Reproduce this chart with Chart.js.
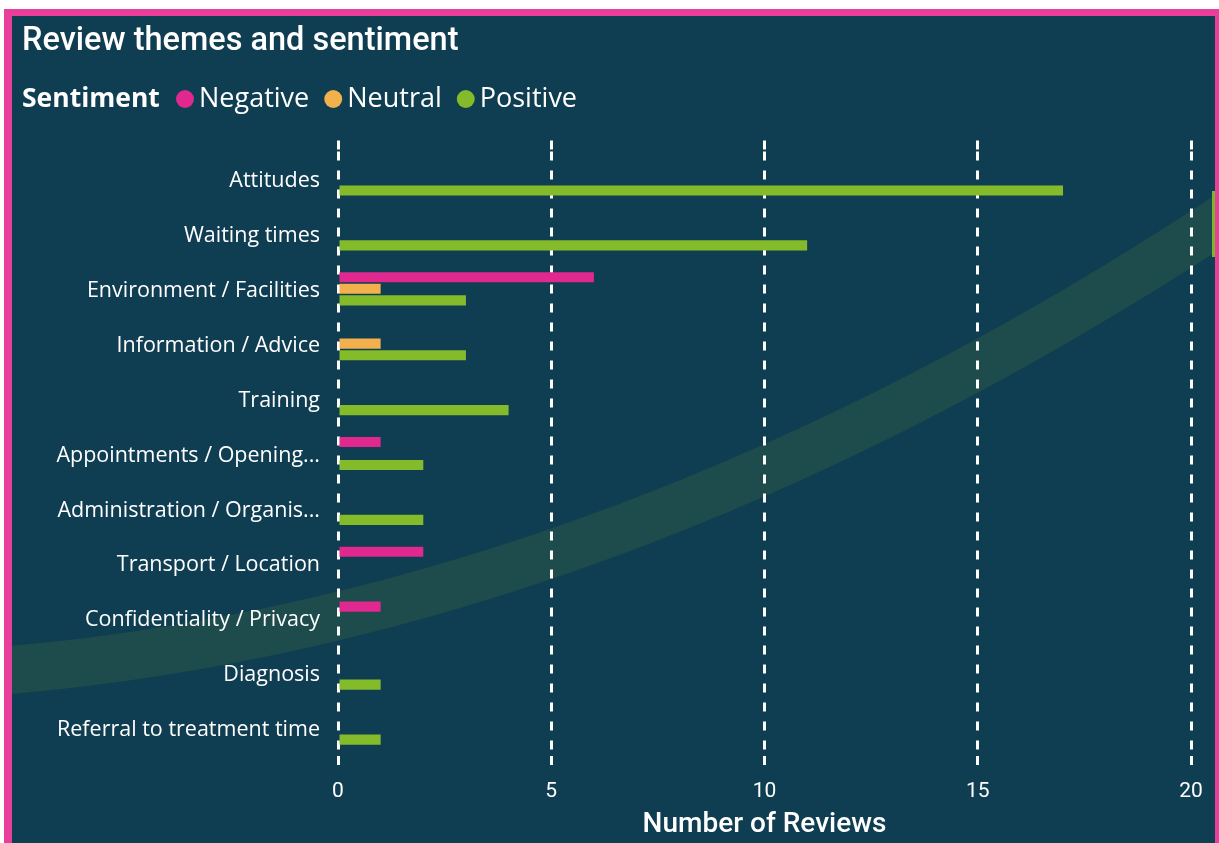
<!DOCTYPE html>
<html>
<head>
<meta charset="utf-8">
<script src="https://cdn.jsdelivr.net/npm/chart.js@4.4.1/dist/chart.umd.min.js"></script>
<style>
html,body{margin:0;padding:0;width:1219px;height:843px;overflow:hidden;background:#ffffff;}
#frame{position:absolute;left:4px;top:9px;width:1219px;height:860px;box-sizing:border-box;
  border-left:8px solid #e8409a;border-top:7px solid #e8409a;border-right:8px solid #e8409a;background:#0f3d51;}
#title{position:absolute;left:22px;top:19px;line-height:40px;font-family:Roboto,sans-serif;font-weight:500;font-size:32.5px;color:#ffffff;white-space:nowrap;}
#legtitle{position:absolute;left:22px;top:79px;line-height:36px;font-family:'Open Sans',sans-serif;font-weight:700;font-size:26.5px;color:#ffffff;white-space:nowrap;}
#c{position:absolute;left:12px;top:16px;}
</style>
</head>
<body>
<div id="frame"></div>
<canvas id="c" width="1203" height="827"></canvas>
<div id="title">Review themes and sentiment</div>
<div id="legtitle">Sentiment</div>
<script>
const categories = [
  'Attitudes',
  'Waiting times',
  'Environment / Facilities',
  'Information / Advice',
  'Training',
  'Appointments / Opening...',
  'Administration / Organis...',
  'Transport / Location',
  'Confidentiality / Privacy',
  'Diagnosis',
  'Referral to treatment time'
];
const seriesNames = ['Negative', 'Neutral', 'Positive'];
const negative = [null, null, 6, null, null, 1, null, 2, 1, null, null];
const neutral  = [null, null, 1, 1, null, null, null, null, null, null, null];
const positive = [17, 11, 3, 3, 4, 2, 2, null, null, 1, 1];
const xTicks = [0, 5, 10, 15, 20];

const colors = { Negative: '#e0288f', Neutral: '#f2b14c', Positive: '#84bb2b' };

const decor = {
  id: 'decor',
  beforeDraw(chart) {
    // shift legend items to sit right of the "Sentiment" heading
    const lg = chart.legend;
    if (lg) {
      const dx = 149 - lg.left;
      lg.left += dx;
      lg.right += dx;
    }
    const ctx = chart.ctx;
    ctx.save();
    ctx.strokeStyle = '#1e4b4b';
    ctx.lineWidth = 48;
    ctx.lineCap = 'butt';
    ctx.beginPath();
    ctx.moveTo(-25, 656);
    ctx.quadraticCurveTo(595, 608, 1215, 200);
    ctx.stroke();
    ctx.fillStyle = '#7bb530';
    ctx.fillRect(1200, 175, 3, 66);
    ctx.restore();
  }
};

const dash = [9, 10];
const datasets = [negative, neutral, positive].map((d, i) => ({
  label: seriesNames[i],
  data: d,
  backgroundColor: colors[seriesNames[i]],
  borderWidth: 0,
  borderSkipped: false,
  barPercentage: 0.88,
  categoryPercentage: 0.63
}));

new Chart(document.getElementById('c'), {
  type: 'bar',
  data: { labels: categories, datasets },
  options: {
    responsive: false,
    animation: false,
    indexAxis: 'y',
    layout: { padding: { left: 0, right: 24, top: 46, bottom: 0 } },
    plugins: {
      legend: {
        position: 'top',
        align: 'start',
        labels: {
          usePointStyle: true,
          pointStyle: 'circle',
          boxWidth: 1,
          boxHeight: 12.7,
          padding: 23.5,
          color: '#ffffff',
          font: { family: 'Open Sans', size: 27 }
        }
      },
      tooltip: { enabled: false }
    },
    scales: {
      x: {
        type: 'linear',
        position: 'bottom',
        min: xTicks[0],
        max: xTicks[xTicks.length - 1],
        afterBuildTicks(s) { s.ticks = xTicks.map(v => ({ value: v })); },
        ticks: { color: '#ffffff', font: { family: 'Roboto', size: 21 }, padding: 11 },
        grid: { color: '#ffffff', lineWidth: 3, drawTicks: true, tickLength: 13, tickColor: '#ffffff', tickWidth: 3, tickBorderDash: dash },
        border: { display: false, dash: dash },
        title: { display: true, text: 'Number of Reviews', color: '#ffffff', font: { family: 'Roboto', size: 28, weight: '500' }, padding: { top: 1, bottom: 1 } },
        afterFit(s) { s.height = 87.5; }
      },
      x2: {
        type: 'linear',
        position: 'top',
        display: true,
        min: xTicks[0],
        max: xTicks[xTicks.length - 1],
        afterBuildTicks(s) { s.ticks = xTicks.map(v => ({ value: v })); },
        ticks: { display: false },
        grid: { drawOnChartArea: false, drawTicks: true, tickLength: 11, tickColor: '#ffffff', tickWidth: 3, tickBorderDash: dash },
        border: { display: false },
        afterFit(s) { s.height = 29; }
      },
      y: {
        type: 'category',
        offset: true,
        grid: { display: false, drawTicks: false },
        border: { display: false },
        ticks: { color: '#ffffff', font: { family: 'Open Sans', size: 21.5 }, padding: 18, autoSkip: false, labelOffset: 2 },
        afterFit(s) { s.width = 326; }
      }
    }
  },
  plugins: [decor]
});
</script>
</body>
</html>
